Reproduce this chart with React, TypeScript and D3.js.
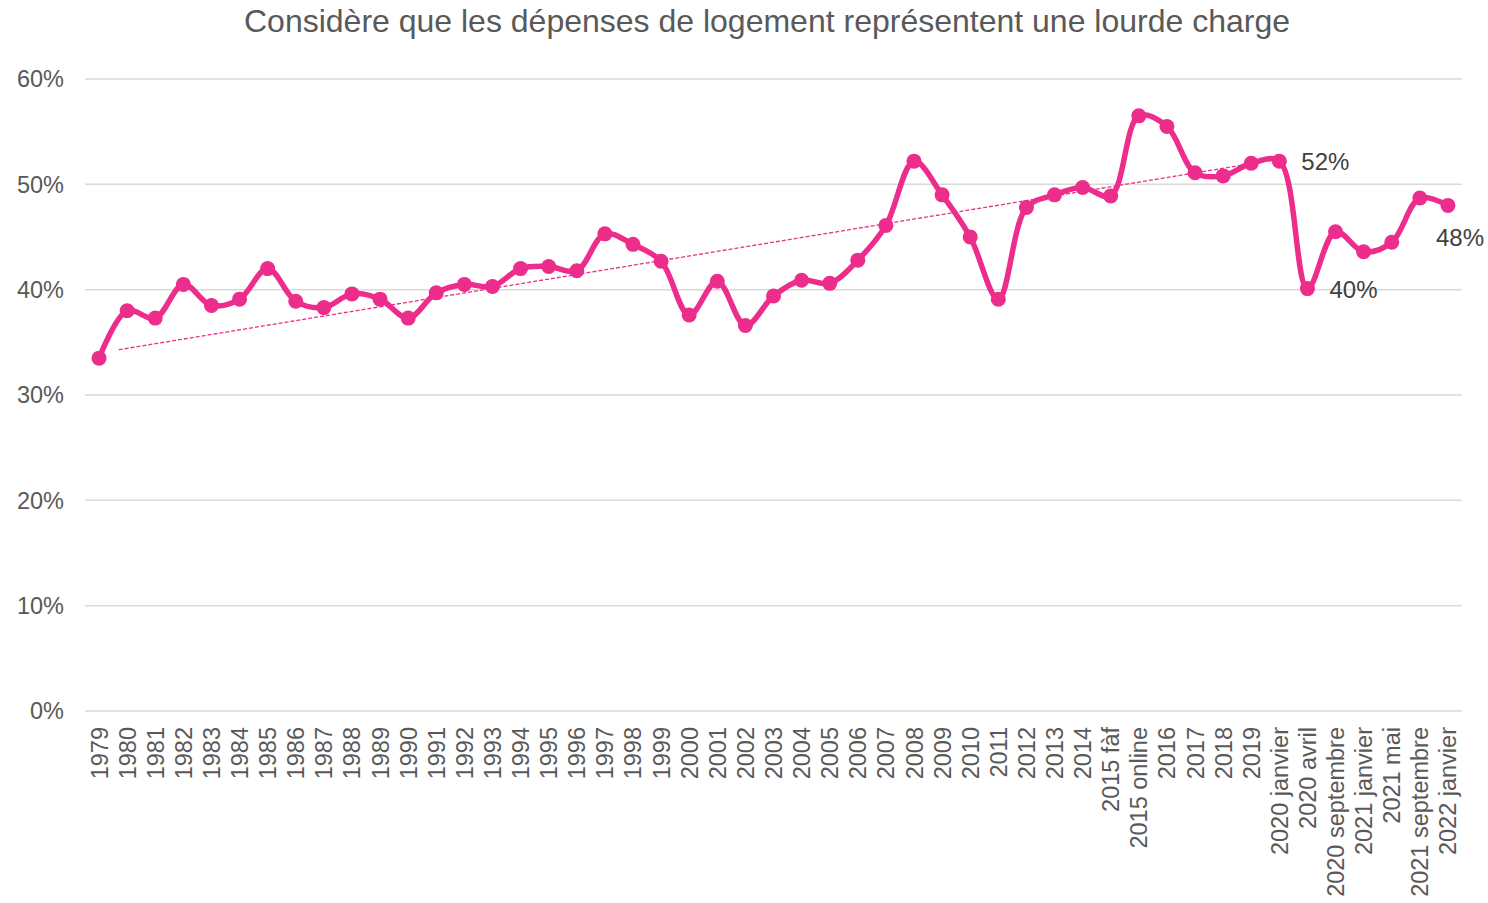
import React from "react";
import * as d3 from "d3";

// categories on the x axis
const categories = [
  "1979", "1980", "1981", "1982", "1983", "1984", "1985", "1986", "1987", "1988",
  "1989", "1990", "1991", "1992", "1993", "1994", "1995", "1996", "1997", "1998",
  "1999", "2000", "2001", "2002", "2003", "2004", "2005", "2006", "2007", "2008",
  "2009", "2010", "2011", "2012", "2013", "2014", "2015 fàf", "2015 online", "2016", "2017",
  "2018", "2019", "2020 janvier", "2020 avril", "2020 septembre", "2021 janvier", "2021 mai",
  "2021 septembre", "2022 janvier",
];

// share (%) who consider housing costs a heavy burden
const values = [
  33.5, 38.0, 37.3, 40.5, 38.5, 39.1, 42.0, 38.9, 38.3, 39.6,
  39.1, 37.3, 39.7, 40.5, 40.3, 42.0, 42.2, 41.8, 45.3, 44.3,
  42.7, 37.6, 40.8, 36.6, 39.4, 40.9, 40.6, 42.8, 46.1, 52.2,
  49.0, 45.0, 39.1, 47.8, 49.0, 49.7, 48.9, 56.5, 55.5, 51.1,
  50.8, 52.0, 52.2, 40.1, 45.5, 43.6, 44.5, 48.7, 48.0,
];

// linear trend (Excel trendline) endpoints: [category index, value]
const trend: [number, number][] = [
  [0.7, 34.3],
  [42, 52.4],
];

// labelled points
const labelled = [
  { cat: "2020 janvier", text: "52%" },
  { cat: "2020 avril", text: "40%" },
  { cat: "2022 janvier", text: "48%" },
];

const yTicks = [0, 10, 20, 30, 40, 50, 60];

const W = 1488;
const H = 903;
const PINK = "#EC2D8C";
const GREY = "#595959";
const FONT = "'Liberation Sans', Arial, sans-serif";

export default function App() {
  const margin = { left: 85, right: 26, top: 79, bottom: 192 };

  const x = d3
    .scaleBand<string>()
    .domain(categories)
    .range([margin.left, W - margin.right]);
  const xi = d3
    .scaleLinear()
    .domain([0, categories.length - 1])
    .range([x(categories[0])! + x.bandwidth() / 2, x(categories[categories.length - 1])! + x.bandwidth() / 2]);
  const y = d3.scaleLinear().domain([0, 60]).range([H - margin.bottom, margin.top]);

  const cx = (c: string) => x(c)! + x.bandwidth() / 2;

  const line = d3
    .line<number>()
    .x((_, i) => cx(categories[i]))
    .y((d) => y(d))
    .curve(d3.curveCatmullRom.alpha(0.5));

  const trendPath = d3
    .line<[number, number]>()
    .x((d) => xi(d[0]))
    .y((d) => y(d[1]))(trend);

  const labelOffset: Record<string, [number, number]> = {
    "52%": [22, 9],
    "40%": [22, 9],
    "48%": [-12, 41],
  };

  return (
    <svg width={W} height={H} style={{ position: "absolute", left: 0, top: 0, background: "#fff" }} fontFamily={FONT}>
      <text x={767} y={32} textAnchor="middle" fontSize={32} fill={GREY}>
        Considère que les dépenses de logement représentent une lourde charge
      </text>

      {yTicks.map((t) => (
        <g key={t}>
          <line x1={margin.left} x2={W - margin.right} y1={y(t)} y2={y(t)} stroke="#d9d9d9" strokeWidth={1.5} />
          <text x={64} y={y(t)} dy="0.35em" textAnchor="end" fontSize={23.5} fill={GREY}>
            {t}%
          </text>
        </g>
      ))}

      {categories.map((c) => (
        <text
          key={c}
          transform={`translate(${cx(c) + 8.5},${y(0) + 16}) rotate(-90)`}
          textAnchor="end"
          fontSize={23.5}
          fill={GREY}
        >
          {c}
        </text>
      ))}

      <path d={trendPath!} fill="none" stroke={PINK} strokeWidth={1.3} strokeDasharray="4 2" />

      <path d={line(values)!} fill="none" stroke={PINK} strokeWidth={5.5} strokeLinejoin="round" />

      {values.map((v, i) => (
        <circle key={i} cx={cx(categories[i])} cy={y(v)} r={7.5} fill={PINK} />
      ))}

      {labelled.map((l) => {
        const i = categories.indexOf(l.cat);
        const [dx, dy] = labelOffset[l.text];
        return (
          <text key={l.text} x={cx(l.cat) + dx} y={y(values[i]) + dy} fontSize={24} fill="#404040">
            {l.text}
          </text>
        );
      })}
    </svg>
  );
}
